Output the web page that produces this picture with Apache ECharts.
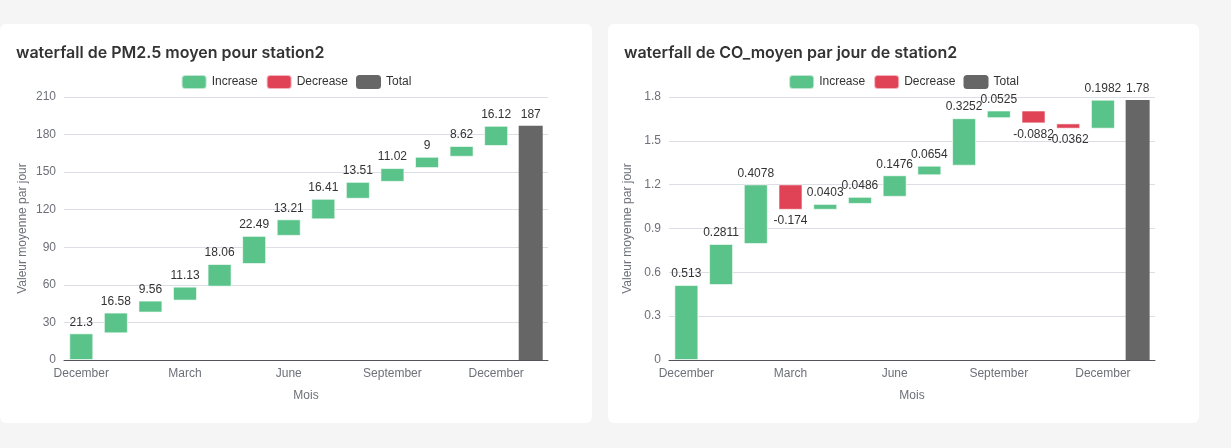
<!DOCTYPE html>
<html>
<head>
<meta charset="utf-8">
<script src="https://cdn.jsdelivr.net/npm/echarts@6/dist/echarts.min.js"></script>
<style>
  html, body { margin: 0; padding: 0; background: #f5f5f5; width: 1231px; height: 448px; overflow: hidden; }
  .card { position: absolute; top: 24px; height: 399px; background: #fff; border-radius: 6px; }
  #c1 { left: 0; width: 592px; }
  #c2 { left: 608px; width: 591px; }
</style>
</head>
<body>
<div class="card" id="c1"></div>
<div class="card" id="c2"></div>
<script>
const mois = ['December', 'January', 'February', 'March', 'April', 'May', 'June', 'July', 'August', 'September', 'October', 'November', 'December', 'Total'];

const pm25Deltas = [21.3, 16.58, 9.56, 11.13, 18.06, 22.49, 13.21, 16.41, 13.51, 11.02, 9, 8.62, 16.12];
const pm25Total = 187;

const coDeltas = [0.513, 0.2811, 0.4078, -0.174, 0.0403, 0.0486, 0.1476, 0.0654, 0.3252, 0.0525, -0.0882, -0.0362, 0.1982];
const coTotal = 1.78;

const GREEN = '#5ac38a', RED = '#e04356', GREY = '#666666';

// construit les séries empilées du waterfall (base invisible + hausse/baisse + total)
const buildSeries = (deltas, total) => {
    const base = [], inc = [], dec = [], tot = [];
    let cum = 0;
    deltas.forEach(d => {
        const next = cum + d;
        base.push(Math.min(cum, next));
        inc.push(d >= 0 ? d : '-');
        dec.push(d < 0 ? Math.abs(d) : '-');
        tot.push('-');
        cum = next;
    });
    base.push(0); inc.push('-'); dec.push('-'); tot.push(total);
    const lbl = { show: true, color: '#333', fontSize: 12 };
    return [
        { name: 'base', type: 'bar', stack: 'w', barWidth: 24, silent: true,
          itemStyle: { color: 'transparent' }, data: base },
        { name: 'Increase', type: 'bar', stack: 'w', itemStyle: { color: GREEN, borderColor: 'rgba(255,255,255,0.6)', borderWidth: 1 },
          label: Object.assign({ position: 'top' }, lbl), data: inc },
        { name: 'Decrease', type: 'bar', stack: 'w', itemStyle: { color: RED, borderColor: 'rgba(255,255,255,0.6)', borderWidth: 1 },
          label: Object.assign({ position: 'bottom', formatter: p => '-' + p.value }, lbl), data: dec },
        { name: 'Total', type: 'bar', stack: 'w', itemStyle: { color: GREY },
          label: Object.assign({ position: 'top' }, lbl), data: tot }
    ];
};

const makeChart = (id, title, deltas, total, yMax, yInterval, gridLeft) => {
    const chart = echarts.init(document.getElementById(id));
    chart.setOption({
        animation: false,
        title: { text: title, left: 11, top: 16,
                 textStyle: { fontSize: 16, fontWeight: 600, color: '#333', fontFamily: 'Inter' } },
        legend: { data: ['Increase', 'Decrease', 'Total'], top: 45, itemWidth: 25, itemHeight: 14,
                  textStyle: { color: '#333', fontSize: 12 } },
        grid: { left: gridLeft, right: 44, top: 73, bottom: 63 },
        xAxis: {
            type: 'category', data: mois, name: 'Mois', nameLocation: 'middle', nameGap: 30,
            nameTextStyle: { color: '#6e7079', fontSize: 12 },
            axisLabel: { interval: 2, color: '#6e7079' },
            axisTick: { interval: 2 }
        },
        yAxis: {
            type: 'value', min: 0, max: yMax, interval: yInterval,
            name: 'Valeur moyenne par jour', nameLocation: 'middle', nameGap: 35, nameMoveOverlap: false,
            nameTextStyle: { color: '#6e7079', fontSize: 12 },
            axisLabel: { color: '#6e7079' }
        },
        series: buildSeries(deltas, total)
    });
    return chart;
};

makeChart('c1', 'waterfall de PM2.5 moyen pour station2', pm25Deltas, pm25Total, 210, 30, 64);
makeChart('c2', 'waterfall de CO_moyen par jour de station2', coDeltas, coTotal, 1.8, 0.3, 61);
</script>
</body>
</html>
